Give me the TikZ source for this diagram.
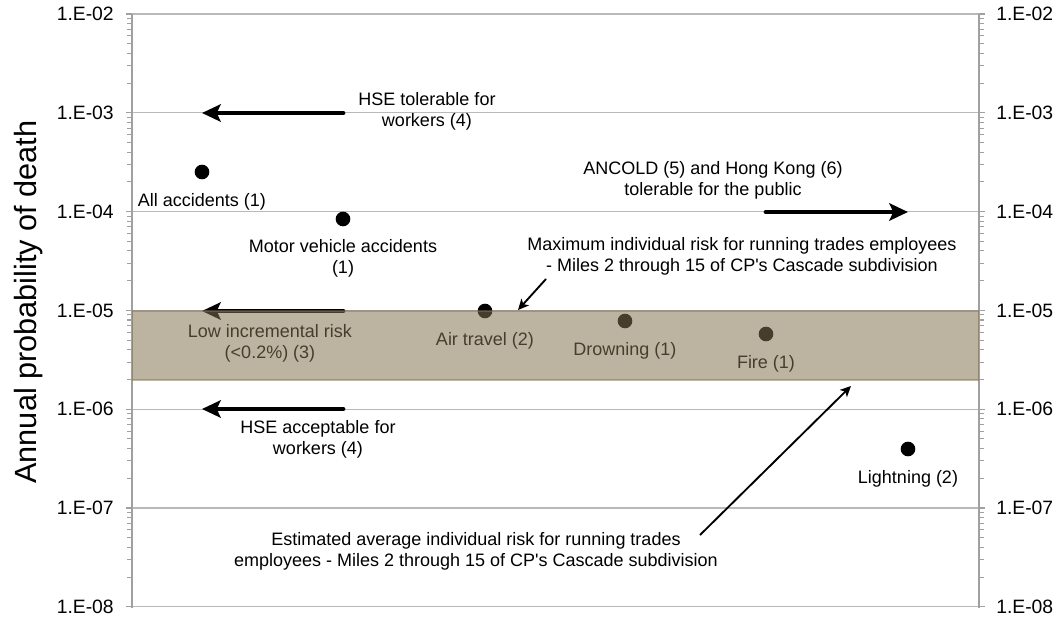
\documentclass[tikz,border=0pt]{standalone}
\usepackage{fontspec}
\setmainfont{Liberation Sans}
\usetikzlibrary{arrows.meta}
\definecolor{gridgray}{RGB}{185,185,185}
\definecolor{axisgray}{RGB}{160,160,160}
\definecolor{bandtan}{RGB}{131,115,82}
\begin{document}
\begin{tikzpicture}[x=0.75pt,y=-0.75pt,
  gridline/.style={gridgray, line width=0.8pt},
  axisline/.style={axisgray, line width=0.8pt},
  ticklabel/.style={font=\fontsize{14.5}{17}\selectfont, inner sep=0pt},
  lbl/.style={font=\fontsize{13.5}{15.8}\selectfont, align=center, inner sep=0pt},
  dot/.style={circle, fill=black, minimum size=11pt, inner sep=0pt},
  bigarrow/.style={line width=3.6pt, line cap=round, -{Stealth[length=14pt, width=13pt, inset=3pt]}},
  thinarrow/.style={line width=1.4pt, -{Stealth[length=8pt, width=7.5pt, inset=2pt]}}
]
\useasboundingbox (0,0) rectangle (1058,621);

% horizontal grid lines, one per decade
\foreach \k in {0,...,6}
  \draw[gridline] (132,{14+98.8*\k}) -- (979,{14+98.8*\k});

% axes with logarithmic minor ticks on both sides
\draw[axisline] (132,14) -- (132,608);
\draw[axisline] (979,14) -- (979,608);
\foreach \k in {0,...,6} {
  \draw[axisline] (126,{14+98.8*\k}) -- (132,{14+98.8*\k});
  \draw[axisline] (979,{14+98.8*\k}) -- (985,{14+98.8*\k});
}
\foreach \k in {0,...,5}
  \foreach \m in {2,...,9} {
    \draw[axisline] (127,{14+98.8*(\k+1-log10(\m))}) -- (132,{14+98.8*(\k+1-log10(\m))});
    \draw[axisline] (979,{14+98.8*(\k+1-log10(\m))}) -- (984,{14+98.8*(\k+1-log10(\m))});
  }

% decade labels, left and right
\foreach \k/\e in {0/02,1/03,2/04,3/05,4/06,5/07,6/08} {
  \node[ticklabel, anchor=east] (left\k) at (114,{14+98.8*\k}) {1.E-\e};
  \node[ticklabel, anchor=west] (right\k) at (996,{14+98.8*\k}) {1.E-\e};
}

% axis title
\node[font=\fontsize{23}{26}\selectfont, rotate=90, inner sep=0pt] (ytitle) at (29,302) {Annual probability of death};

% criteria arrows
\coordinate (tolS) at (343,113);  \coordinate (tolE) at (202,113);
\coordinate (ancS) at (766,212);  \coordinate (ancE) at (908,212);
\coordinate (lowS) at (343,311);  \coordinate (lowE) at (202,311);
\coordinate (accS) at (343,409);  \coordinate (accE) at (202,409);
\draw[bigarrow] (tolS) -- (tolE);
\draw[bigarrow] (ancS) -- (ancE);
\draw[bigarrow] (lowS) -- (lowE);
\draw[bigarrow] (accS) -- (accE);

\node[lbl] (tolT) at (427,111.5) {HSE tolerable for\\workers (4)};
\node[lbl] (ancT) at (713,180) {ANCOLD (5) and Hong Kong (6)\\tolerable for the public};
\node[lbl] (lowT) at (270,343.5) {Low incremental risk\\(<0.2\%) (3)};
\node[lbl] (accT) at (318,439.5) {HSE acceptable for\\workers (4)};

% reference risks
\node[dot] (allD) at (202,172) {};
\node[dot] (motD) at (343,219) {};
\node[dot] (airD) at (485,311) {};
\node[dot] (drnD) at (625,321) {};
\node[dot] (firD) at (766,334) {};
\node[dot] (ltnD) at (908,449) {};

\node[lbl] (allT) at (202,202) {All accidents (1)};
\node[lbl] (motT) at (343,258.5) {Motor vehicle accidents\\(1)};
\node[lbl] (airT) at (485,341) {Air travel (2)};
\node[lbl] (drnT) at (625,351) {Drowning (1)};
\node[lbl] (firT) at (766,364) {Fire (1)};
\node[lbl] (ltnT) at (908,479) {Lightning (2)};

% running trades risk band (2E-06 to 1E-05)
\fill[bandtan, fill opacity=0.54] (132,311) rectangle (979,380);
\draw[bandtan, opacity=0.5, line width=0.8pt] (132,311) -- (979,311);
\draw[bandtan, opacity=0.5, line width=0.8pt] (132,380) -- (979,380);

% band annotations
\node[lbl] (maxT) at (742,256.5) {Maximum individual risk for running trades employees\\- Miles 2 through 15 of CP\textquotesingle s Cascade subdivision};
\coordinate (maxS) at (546,279);  \coordinate (maxE) at (518,310);
\draw[thinarrow] (maxS) -- (maxE);

\node[lbl] (avgT) at (476,551.5) {Estimated average individual risk for running trades\\employees - Miles 2 through 15 of CP\textquotesingle s Cascade subdivision};
\coordinate (avgS) at (700,535);  \coordinate (avgE) at (851,386);
\draw[thinarrow] (avgS) -- (avgE);
\end{tikzpicture}
\end{document}
